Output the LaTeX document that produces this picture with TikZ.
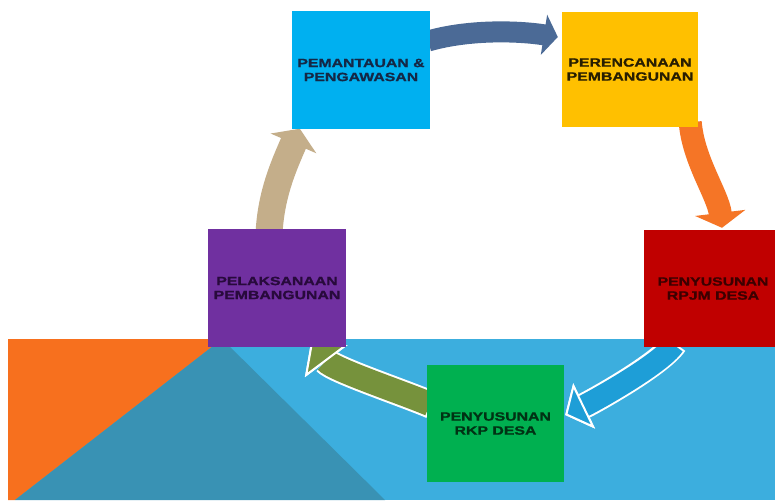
\documentclass[tikz,border=0pt]{standalone}
\usepackage{fontspec}
\setmainfont{Liberation Sans}
\newfontfamily\boxfont[FakeStretch=1.32,BoldFeatures={FakeBold=1.2}]{Liberation Sans}
\usetikzlibrary{arrows.meta}
\pgfdeclarelayer{bglayer}
\pgfdeclarelayer{arrowlayer}
\pgfsetlayers{bglayer,arrowlayer,main}
\definecolor{bgblue}{RGB}{60,174,222}
\definecolor{bgteal}{RGB}{57,146,180}
\definecolor{bgorange}{RGB}{247,112,30}
\definecolor{cPem}{RGB}{0,176,240}
\definecolor{cPer}{RGB}{255,192,0}
\definecolor{cPel}{RGB}{112,48,160}
\definecolor{cRpjm}{RGB}{192,0,0}
\definecolor{cRkp}{RGB}{0,176,80}
\definecolor{tPem}{RGB}{20,40,70}
\definecolor{tPer}{RGB}{40,30,0}
\definecolor{tPel}{RGB}{40,10,60}
\definecolor{tRpjm}{RGB}{60,0,0}
\definecolor{tRkp}{RGB}{0,50,20}
\definecolor{aSlate}{RGB}{75,106,150}
\definecolor{aOrange}{RGB}{245,117,38}
\definecolor{aCyan}{RGB}{30,158,215}
\definecolor{aOlive}{RGB}{118,146,60}
\definecolor{aTan}{RGB}{196,174,138}
\begin{document}
\begin{tikzpicture}[x=1pt,y=-1pt,
  boxnode/.style={rectangle, inner sep=0pt, align=center,
    font=\boxfont\bfseries\fontsize{12}{14}\selectfont},
]
\useasboundingbox (0,0) rectangle (775,500);
\begin{pgfonlayer}{bglayer}
  \fill[white] (0,0) rectangle (775,500);
  \fill[bgblue] (8,339) rectangle (775,500);
  \fill[bgorange] (8,339) -- (222,339) -- (15,500) -- (8,500) -- cycle;
  \fill[bgteal] (222,339) -- (385,500) -- (15,500) -- cycle;
\end{pgfonlayer}

\node[boxnode, fill=cPem, text=tPem, minimum width=138pt, minimum height=117pt] (pem) at (361,70) {PEMANTAUAN \&\\PENGAWASAN};
\node[boxnode, fill=cPer, text=tPer, minimum width=136pt, minimum height=115pt] (per) at (630,69.5) {PERENCANAAN\\PEMBANGUNAN};
\node[boxnode, fill=cPel, text=tPel, minimum width=138pt, minimum height=118pt] (pel) at (277,288) {PELAKSANAAN\\PEMBANGUNAN};
\node[boxnode, fill=cRpjm, text=tRpjm, minimum width=138pt, minimum height=117pt] (rpjm) at (713,288.5) {PENYUSUNAN\\RPJM DESA};
\node[boxnode, fill=cRkp, text=tRkp, minimum width=137pt, minimum height=117pt] (rkp) at (495.5,423.5) {PENYUSUNAN\\RKP DESA};

\begin{pgfonlayer}{arrowlayer}
  % pemantauan -> perencanaan
  \draw[line width=21pt, aSlate, -{Triangle[width=40pt,length=14pt]}]
    ([shift={(-2,-29)}]pem.east) .. controls +(42,-12) and +(-38,-6) .. ([shift={(-4,-32.5)}]per.west);
  % perencanaan -> rpjm
  \draw[line width=23pt, aOrange, -{Triangle[width=50pt,length=15pt]}]
    ([shift={(-8,-5)}]per.south east) .. controls +(3,38) and +(-4,-33) .. ([shift={(9,-2)}]rpjm.north);
  % rpjm -> rkp
  \draw[line width=26pt, white, -{Triangle[width=50pt,length=21pt,line width=2pt,color=white,fill=white]}]
    ([shift={(31,-4)}]rpjm.south west) .. controls +(-14,21) and +(27,-13) .. ([shift={(1,-8.5)}]rkp.east);
  \draw[line width=22pt, aCyan, shorten <=2pt, -{Triangle[width=50pt,length=21pt,line width=2pt,color=white,fill=aCyan]}]
    ([shift={(31,-4)}]rpjm.south west) .. controls +(-14,21) and +(27,-13) .. ([shift={(1,-8.5)}]rkp.east);
  % rkp -> pelaksanaan
  \draw[line width=28pt, white, -{Triangle[width=53pt,length=25pt,line width=2pt,color=white,fill=white]}]
    ([shift={(5,-18.5)}]rkp.west) .. controls +(-28,-12) and +(21,28) .. ([shift={(-35,-6)}]pel.south east);
  \draw[line width=24pt, aOlive, shorten <=2pt, -{Triangle[width=53pt,length=25pt,line width=2pt,color=white,fill=aOlive]}]
    ([shift={(5,-18.5)}]rkp.west) .. controls +(-28,-12) and +(21,28) .. ([shift={(-35,-6)}]pel.south east);
  % pelaksanaan -> pemantauan
  \draw[line width=27pt, aTan, -{Triangle[width=49pt,length=16pt]}]
    ([shift={(-8,5)}]pel.north) .. controls +(2,-40) and +(-16,37) .. ([shift={(8,0)}]pem.south west);
\end{pgfonlayer}
\end{tikzpicture}
\end{document}
